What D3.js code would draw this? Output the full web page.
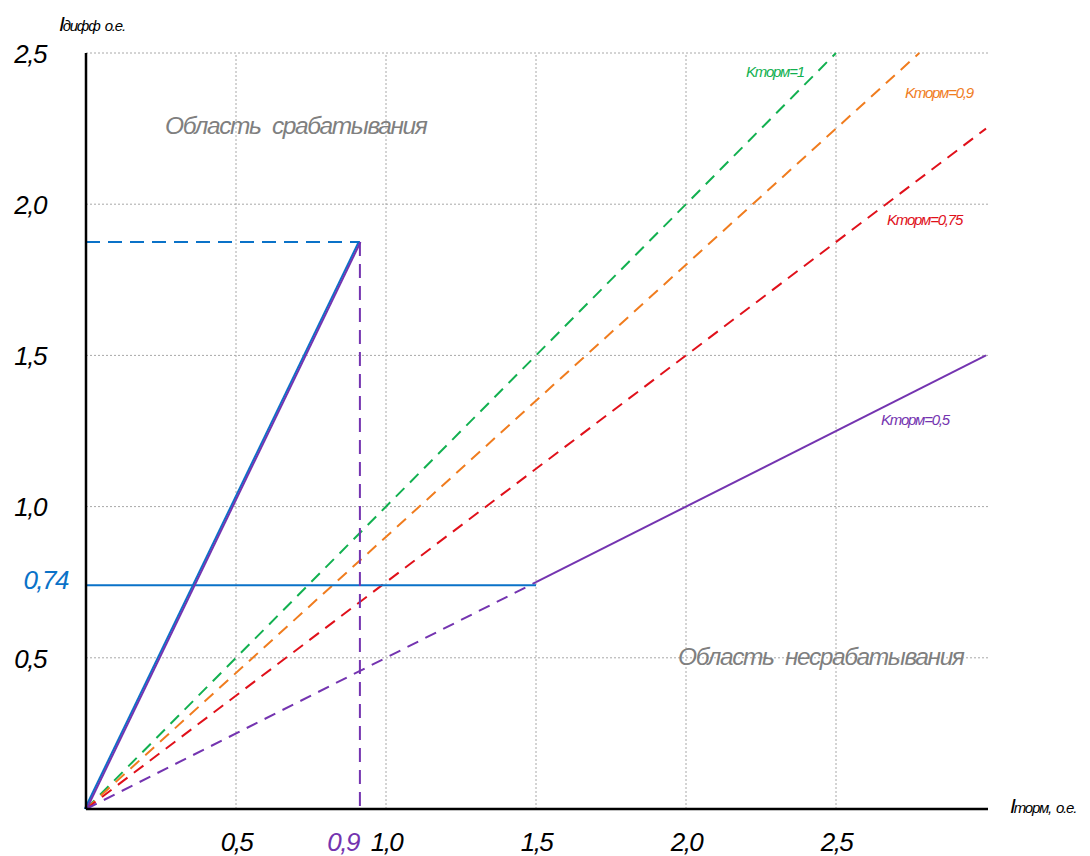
<!DOCTYPE html>
<html>
<head>
<meta charset="utf-8">
<script src="https://cdn.jsdelivr.net/npm/d3@7"></script>
<style>
  html, body { margin: 0; padding: 0; background: #fff; }
  svg { display: block; font-family: "Liberation Sans", Arial, sans-serif; }
</style>
</head>
<body>
<svg id="chart" width="1090" height="856"></svg>
<script>
// Tick values and labels
const xTicks = [0.5, 1.0, 1.5, 2.0, 2.5];
const xTickLabels = ["0,5", "1,0", "1,5", "2,0", "2,5"];
const yTicks = [0.5, 1.0, 1.5, 2.0, 2.5];
const yTickLabels = ["0,5", "1,0", "1,5", "2,0", "2,5"];

// Braking characteristics I_diff = K * I_torm
const kNames = ["Kторм=1", "Kторм=0,9", "Kторм=0,75"];
const kValues = [1, 0.9, 0.75];
const kColors = ["#12b050", "#f07c1e", "#e0101a"];
const kLabelAt = [[2.20, 2.42], [2.73, 2.35], [2.67, 1.93]];

// Operating characteristic: starting current, knee and slope 0.5
const kLow = 0.5;
const iStart = 0.74;
const kneeX = 1.5;
const xMax = 3.0;
const lowLabelAt = [2.65, 1.27];

// Point of the steep segment from the origin
const peakX = 0.913;
const peakY = 1.875;

const W = 1090, H = 856;
const x = d3.scaleLinear().domain([0, 3]).range([86, 986]);
const y = d3.scaleLinear().domain([0, 2.5]).range([809, 53]);

const svg = d3.select("#chart");

const purple = "#7434b0";
const blue = "#0a72c8";

// grid
const grid = svg.append("g");
grid.selectAll("line.gx").data(xTicks).join("line")
  .attr("x1", d => x(d)).attr("x2", d => x(d))
  .attr("y1", y(0)).attr("y2", y(2.5))
  .attr("stroke", "#a8a8a8").attr("stroke-width", 1).attr("stroke-dasharray", "2,2");
grid.selectAll("line.gy").data(yTicks).join("line")
  .attr("x1", x(0)).attr("x2", x(3) + 2)
  .attr("y1", d => y(d)).attr("y2", d => y(d))
  .attr("stroke", "#a8a8a8").attr("stroke-width", 1).attr("stroke-dasharray", "2,2");

// axes
const xAxis = d3.axisBottom(x).tickValues(xTicks).tickFormat((d, i) => xTickLabels[i]).tickSize(0).tickPadding(0);
const yAxis = d3.axisLeft(y).tickValues(yTicks).tickFormat((d, i) => yTickLabels[i]).tickSize(0).tickPadding(40);

const gx = svg.append("g").attr("transform", `translate(0,${y(0)})`).call(xAxis);
gx.select(".domain").remove();
gx.selectAll("text").attr("font-size", 26).attr("font-style", "italic")
  .attr("fill", "#000").attr("letter-spacing", "-1.5px").attr("dy", null).attr("y", 42);

const gy = svg.append("g").attr("transform", `translate(${x(0)},0)`).call(yAxis);
gy.select(".domain").remove();
gy.selectAll("text").attr("font-size", 26).attr("font-style", "italic")
  .attr("fill", "#000").attr("letter-spacing", "-1.5px").attr("dy", "0.36em");

const line = d3.line().x(d => x(d[0])).y(d => y(d[1]));

// K lines (dashed)
kValues.forEach((k, i) => {
  const xe = Math.min(xMax, 2.5 / k);
  svg.append("path").datum([[0, 0], [xe, k * xe]])
    .attr("d", line).attr("fill", "none")
    .attr("stroke", kColors[i]).attr("stroke-width", 2).attr("stroke-dasharray", "12,8");
  svg.append("text").attr("x", x(kLabelAt[i][0])).attr("y", y(kLabelAt[i][1]))
    .attr("fill", kColors[i]).attr("font-size", 15).attr("font-style", "italic")
    .attr("letter-spacing", "-1.2px").text(kNames[i]);
});

// K=0.5 dashed part below knee
svg.append("path").datum([[0, 0], [kneeX, kLow * kneeX]])
  .attr("d", line).attr("fill", "none")
  .attr("stroke", purple).attr("stroke-width", 2).attr("stroke-dasharray", "12,8");

// horizontal starting current
svg.append("path").datum([[0, iStart], [kneeX, iStart]])
  .attr("d", line).attr("fill", "none").attr("stroke", blue).attr("stroke-width", 2);

// K=0.5 solid part after knee
svg.append("path").datum([[kneeX, kLow * kneeX], [xMax, kLow * xMax]])
  .attr("d", line).attr("fill", "none").attr("stroke", purple).attr("stroke-width", 2);
svg.append("text").attr("x", x(lowLabelAt[0])).attr("y", y(lowLabelAt[1]))
  .attr("fill", purple).attr("font-size", 15).attr("font-style", "italic")
  .attr("letter-spacing", "-1.2px").text("Kторм=0,5");

// steep segment (blue under purple)
svg.append("path").datum([[0, 0], [peakX, peakY]])
  .attr("d", line).attr("fill", "none").attr("stroke", blue).attr("stroke-width", 2)
  .attr("transform", "translate(-1.2,0)");
svg.append("path").datum([[0, 0], [peakX, peakY]])
  .attr("d", line).attr("fill", "none").attr("stroke", purple).attr("stroke-width", 2)
  .attr("transform", "translate(0.6,0)");

// projections of the peak point
svg.append("path").datum([[0, peakY], [peakX, peakY]])
  .attr("d", line).attr("fill", "none").attr("stroke", blue).attr("stroke-width", 2).attr("stroke-dasharray", "14,8");
svg.append("path").datum([[peakX, peakY], [peakX, 0]])
  .attr("d", line).attr("fill", "none").attr("stroke", purple).attr("stroke-width", 2).attr("stroke-dasharray", "14,8");

// axis lines
svg.append("line").attr("x1", x(0)).attr("x2", x(0)).attr("y1", y(2.5)).attr("y2", y(0))
  .attr("stroke", "#000").attr("stroke-width", 2.5);
svg.append("line").attr("x1", x(0)).attr("x2", x(3) + 2).attr("y1", y(0)).attr("y2", y(0))
  .attr("stroke", "#000").attr("stroke-width", 2.5);

// highlighted values
svg.append("text").attr("x", x(0) - 18).attr("y", y(iStart) + 4)
  .attr("text-anchor", "end").attr("font-size", 26).attr("font-style", "italic")
  .attr("letter-spacing", "-1.5px").attr("fill", blue).text("0,74");
svg.append("text").attr("x", x(peakX) - 1).attr("y", y(0) + 42)
  .attr("text-anchor", "end").attr("font-size", 26).attr("font-style", "italic")
  .attr("letter-spacing", "-1.5px").attr("fill", purple).text("0,9");

// region captions
svg.append("text").attr("x", 165).attr("y", 134)
  .attr("font-size", 24.5).attr("font-style", "italic").attr("letter-spacing", "-1.4px")
  .attr("fill", "#7f7f7f").attr("word-spacing", "6px").text("Область срабатывания");
svg.append("text").attr("x", 678).attr("y", 665)
  .attr("font-size", 24.5).attr("font-style", "italic").attr("letter-spacing", "-1.4px")
  .attr("fill", "#7f7f7f").attr("word-spacing", "6px").text("Область несрабатывания");

// axis titles
const ty = svg.append("text").attr("x", 59).attr("y", 31)
  .attr("font-style", "italic").attr("fill", "#000").attr("letter-spacing", "-1.2px");
ty.append("tspan").attr("font-size", 21).text("I");
ty.append("tspan").attr("font-size", 15).attr("dx", -1).text("дифф");
ty.append("tspan").attr("font-size", 15).attr("dx", 5).text("о.е.");

const tx = svg.append("text").attr("x", 1010).attr("y", 813)
  .attr("font-style", "italic").attr("fill", "#000").attr("letter-spacing", "-1.2px");
tx.append("tspan").attr("font-size", 21).text("I");
tx.append("tspan").attr("font-size", 15).attr("dx", -1).text("торм,");
tx.append("tspan").attr("font-size", 15).attr("dx", 5).text("о.е.");
</script>
</body>
</html>
